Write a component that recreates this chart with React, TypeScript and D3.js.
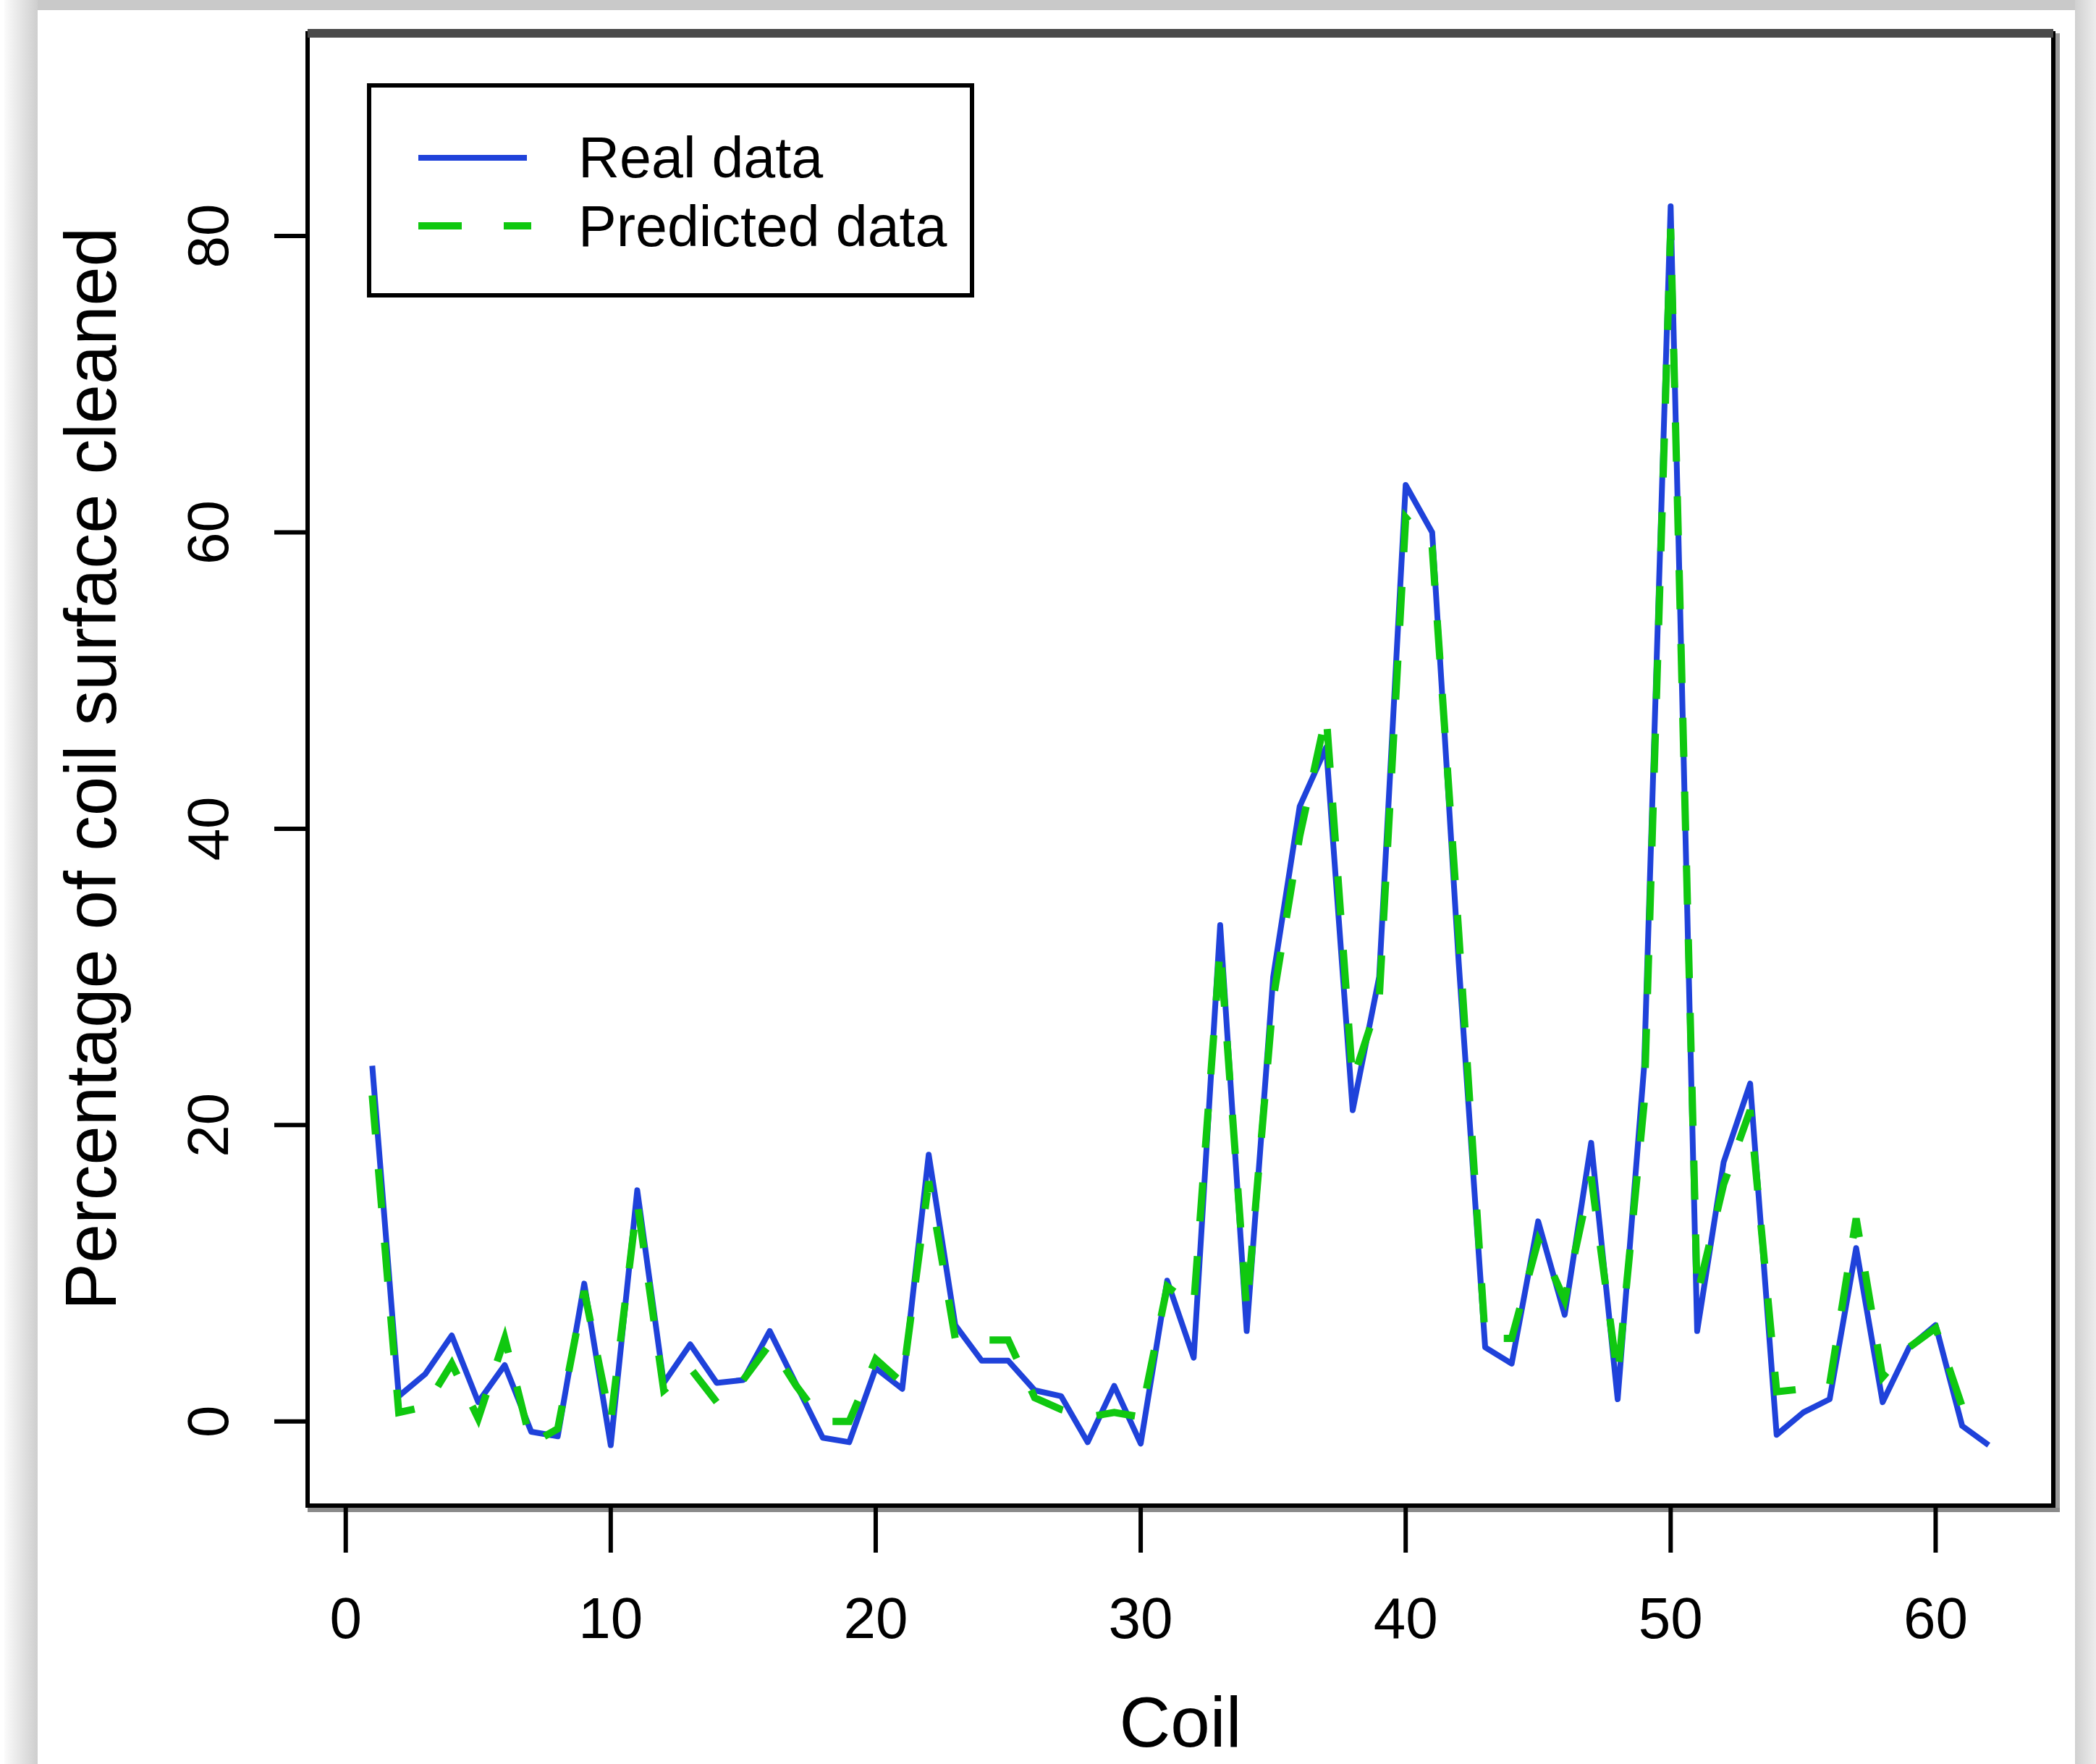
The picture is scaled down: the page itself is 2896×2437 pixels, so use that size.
import * as d3 from "d3";

const W = 2896;
const H = 2437;

// coil index 1..62
const coils = d3.range(1, 63);

const realData = [
  24, 1.7, 3.2, 5.8, 1.3, 3.8, -0.7, -1, 9.3, -1.6,
  15.6, 2.6, 5.2, 2.6, 2.8, 6.1, 2.5, -1.1, -1.4, 3.6,
  2.2, 18, 6.5, 4.1, 4.1, 2.1, 1.7, -1.4, 2.4, -1.5,
  9.5, 4.3, 33.5, 6.1, 30, 41.5, 45.5, 21, 30, 63.2,
  60, 31, 5, 3.9, 13.5, 7.2, 18.8, 1.5, 24, 82,
  6.1, 17.5, 22.8, -0.9, 0.6, 1.5, 11.7, 1.3, 5, 6.5,
  -0.3, -1.6,
];

const predictedData = [
  22, 0.6, 1, 3.9, 0.2, 5.6, -1.5, -0.5, 8.8, 0,
  14.8, 2.1, 3.6, 1.3, 2.8, 5.2, 2.4, 0, 0, 4.2,
  2.6, 16.2, 5.6, 5.5, 5.5, 1.6, 0.8, 0.3, 0.6, 0.3,
  9.1, 7.8, 32, 7.5, 28.5, 39.5, 47.7, 23, 28.5, 61,
  59, 33, 5.6, 5.6, 12.2, 8.2, 16.5, 3, 21.5, 80.5,
  8.5, 16, 21, 2, 2.2, 2.5, 13.7, 3, 5, 6.3,
  1, 0.3,
];

const xTicks = [0, 10, 20, 30, 40, 50, 60];
const yTicks = [0, 20, 40, 60, 80];

const font = "'Liberation Sans', Arial, Helvetica, sans-serif";

export default function App() {
  // plot box
  const left = 425, right = 2837, top = 46, bottom = 2080;

  // R style: data range padded 4%
  const x = d3.scaleLinear().domain([-1.44, 64.44]).range([left, right]);
  const y = d3.scaleLinear().domain([-5.68, 93.68]).range([bottom, top]);

  const line = d3.line<number>()
    .x((d, i) => x(coils[i]))
    .y((d) => y(d));

  return (
    <svg
      width={W}
      height={H}
      style={{ position: "absolute", left: 0, top: 0, background: "#fff" }}
    >
      <defs>
        <linearGradient id="leftEdge" x1="0" x2="1" y1="0" y2="0">
          <stop offset="0" stopColor="#fbfbfb" />
          <stop offset="1" stopColor="#cecece" />
        </linearGradient>
        <linearGradient id="rightEdge" x1="0" x2="1" y1="0" y2="0">
          <stop offset="0" stopColor="#d0d0d0" />
          <stop offset="1" stopColor="#ededed" />
        </linearGradient>
      </defs>

      {/* grey frame of the picture */}
      <rect x={0} y={0} width={W} height={H} fill="#fff" />
      <rect x={6} y={0} width={46} height={H} fill="url(#leftEdge)" />
      <rect x={52} y={0} width={2815} height={14} fill="#c9c9c9" />
      <rect x={2867} y={0} width={29} height={H} fill="url(#rightEdge)" />

      {/* series */}
      <path d={line(realData) || ""} fill="none" stroke="#1f42da" strokeWidth={8} strokeLinejoin="round" />
      <path
        d={line(predictedData) || ""}
        fill="none"
        stroke="#10c810"
        strokeWidth={10}
        strokeDasharray="54 48"
      />

      {/* plot box with a little shadow */}
      <line x1={right + 6} x2={right + 6} y1={top} y2={bottom + 8} stroke="#9a9a9a" strokeWidth={6} />
      <line x1={left} x2={right + 9} y1={bottom + 6} y2={bottom + 6} stroke="#8a8a8a" strokeWidth={6} />
      <rect x={left} y={top} width={right - left} height={bottom - top} fill="none" stroke="#000" strokeWidth={6} />
      <line x1={left} x2={right} y1={top} y2={top} stroke="#4a4a4a" strokeWidth={12} />

      {/* x axis */}
      {xTicks.map((t) => (
        <g key={"x" + t}>
          <line x1={x(t)} x2={x(t)} y1={bottom} y2={2145} stroke="#000" strokeWidth={6} />
          <text x={x(t)} y={2263} textAnchor="middle" fontFamily={font} fontSize={80} fill="#000">
            {t}
          </text>
        </g>
      ))}
      <text x={(left + right) / 2} y={2413} textAnchor="middle" fontFamily={font} fontSize={98} fill="#000">
        Coil
      </text>

      {/* y axis */}
      {yTicks.map((t) => (
        <g key={"y" + t}>
          <line x1={379} x2={left} y1={y(t)} y2={y(t)} stroke="#000" strokeWidth={6} />
          <text
            transform={`translate(315,${y(t)}) rotate(-90)`}
            textAnchor="middle"
            fontFamily={font}
            fontSize={80}
            fill="#000"
          >
            {t}
          </text>
        </g>
      ))}
      <text
        transform="translate(160,1062) rotate(-90)"
        textAnchor="middle"
        fontFamily={font}
        fontSize={100}
        textLength={1496}
        lengthAdjust="spacingAndGlyphs"
        fill="#000"
      >
        Percentage of coil surface cleaned
      </text>

      {/* legend */}
      <rect x={510} y={118} width={833} height={290} fill="#fff" stroke="#000" strokeWidth={6} />
      <line x1={578} x2={728} y1={218} y2={218} stroke="#1f42da" strokeWidth={8} />
      <line x1={578} x2={734} y1={312} y2={312} stroke="#10c810" strokeWidth={10} strokeDasharray="60 58" />
      <text x={799} y={245} fontFamily={font} fontSize={79} fill="#000">Real data</text>
      <text x={799} y={340} fontFamily={font} fontSize={79} fill="#000">Predicted data</text>
    </svg>
  );
}
